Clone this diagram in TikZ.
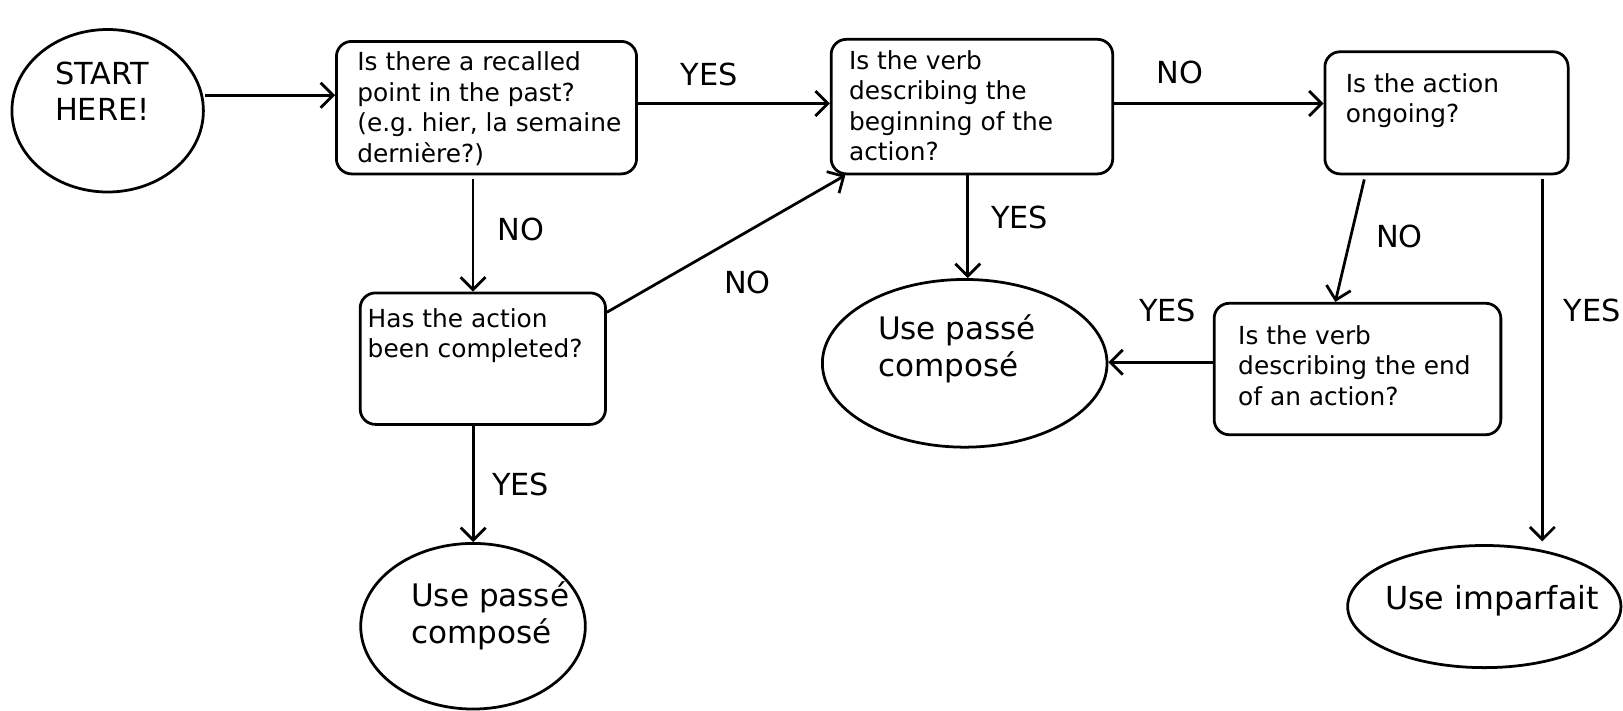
\documentclass[tikz,border=0pt]{standalone}
\usepackage{fontspec}
\setmainfont{DejaVu Sans}
\usetikzlibrary{arrows.meta,shapes.geometric,calc}
\frenchspacing
\begin{document}
\begin{tikzpicture}[x=0.75pt,y=-0.75pt,
  qbox/.style={draw, line width=2pt, rounded corners=11pt, inner sep=0pt},
  oval/.style={draw, ellipse, line width=2pt, inner sep=0pt},
  qtext/.style={anchor=west, align=left, inner sep=0pt, font=\fontsize{18}{22}\selectfont},
  otext/.style={anchor=west, align=left, inner sep=0pt, font=\fontsize{22.5}{27}\selectfont},
  lbl/.style={inner sep=0pt, font=\fontsize{22}{26}\selectfont},
  arr/.style={line width=2pt, -{Straight Barb[length=9pt,width=18pt]}}]
\useasboundingbox (0,0) rectangle (1568,686);

% shapes
\node[oval, minimum width=138.75pt, minimum height=117.75pt] (start) at (104,107) {};
\node[qbox, minimum width=217.5pt, minimum height=96pt] (b1) at (470,104) {};
\node[qbox, minimum width=204pt, minimum height=97.5pt] (b2) at (939,103) {};
\node[qbox, minimum width=176.25pt, minimum height=88.5pt] (b3) at (1397.5,109) {};
\node[qbox, minimum width=177.75pt, minimum height=95.25pt] (b4) at (466.5,346.5) {};
\node[qbox, minimum width=207.75pt, minimum height=95.25pt] (b5) at (1311.5,356.5) {};
\node[oval, minimum width=206.25pt, minimum height=121.5pt] (pc1) at (932,351) {};
\node[oval, minimum width=162.75pt, minimum height=120pt] (pc2) at (457,605) {};
\node[oval, minimum width=198pt, minimum height=88.5pt] (imp) at (1434,586) {};

% texts
\node[otext, font=\fontsize{22}{26.5}\selectfont] (tstart) at (53,88) {START\\HERE!};
\node[qtext] (t1) at (345,105) {Is there a recalled\\point in the past?\\(e.g. hier, la semaine\\dernière?)};
\node[qtext] (t2) at (820,102) {Is the verb\\describing the\\beginning of the\\action?};
\node[qtext] (t3) at (1300,97) {Is the action\\ongoing?};
\node[qtext] (t4) at (355,324) {Has the action\\been completed?};
\node[qtext] (t5) at (1196,353) {Is the verb\\describing the end\\of an action?};
\node[otext] (tpc1) at (848,337) {Use passé\\composé};
\node[otext] (tpc2) at (397,595) {Use passé\\composé};
\node[otext, font=\fontsize{23}{27}\selectfont] (timp) at (1338,580) {Use imparfait};

% connectors
\coordinate (s1) at ([yshift=11.25pt]start.east);
\draw[arr] (s1) -- (s1 -| b1.west);
\coordinate (s2) at ([yshift=3pt]b1.east);
\draw[arr] (s2) -- (s2 -| b2.west);
\coordinate (s3) at ([yshift=2.25pt]b2.east);
\draw[arr] (s3) -- (s3 -| b3.west);
\coordinate (s4) at ([xshift=-9.75pt,yshift=-3pt]b1.south);
\draw[arr] (s4) -- (s4 |- b4.north);
\coordinate (s5) at ([yshift=-15pt]b4.north east);
\coordinate (e5) at ([xshift=11.25pt]b2.south west);
\draw[arr] (s5) -- (e5);
\coordinate (s6) at ([xshift=-3pt]b2.south);
\draw[arr] (s6) -- (s6 |- pc1.north);
\coordinate (s7) at ([xshift=-59.6pt,yshift=-3pt]b3.south);
\coordinate (e7) at ([xshift=-16.1pt]b5.north);
\draw[arr] (s7) -- (e7);
\coordinate (s8) at ([yshift=4.9pt]b5.west);
\draw[arr] (s8) -- (s8 -| pc1.east);
\coordinate (s9) at ([xshift=69.4pt,yshift=-3pt]b3.south);
\draw[arr, shorten >=2pt] (s9) -- (s9 |- imp.north);
\coordinate (s10) at ([xshift=-7pt]b4.south);
\draw[arr] (s10) -- (s10 |- pc2.north);

% labels
\node[lbl] (l1) at (685,72) {YES};
\node[lbl] (l2) at (1140,70) {NO};
\node[lbl] (l3) at (503,222) {NO};
\node[lbl] (l4) at (722,273) {NO};
\node[lbl] (l5) at (985,210) {YES};
\node[lbl] (l6) at (1352,228) {NO};
\node[lbl] (l7) at (1128,300) {YES};
\node[lbl] (l8) at (1538,300) {YES};
\node[lbl] (l9) at (503,468) {YES};
\end{tikzpicture}
\end{document}
